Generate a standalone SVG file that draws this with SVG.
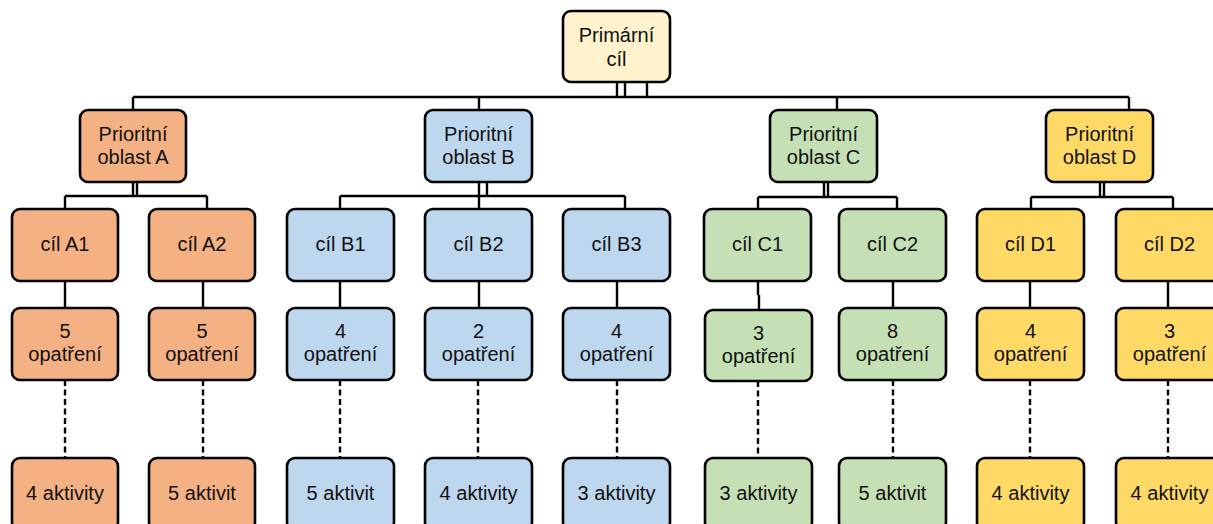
<svg xmlns="http://www.w3.org/2000/svg" width="1213" height="524" viewBox="0 0 1213 524">
<style>
.box{stroke:#000;stroke-width:2.6}
.p{fill:#FFF2CC}.a{fill:#F4B183}.b{fill:#BDD7EE}.c{fill:#C5E0B4}.d{fill:#FFD966}
text{font-family:"Liberation Sans",Arial,sans-serif;font-size:20px;fill:#111;text-anchor:middle}
.ln{stroke:#000;stroke-width:2.4;fill:none}
.ds{stroke:#000;stroke-width:2.4;fill:none;stroke-dasharray:6 3.5}
</style>
<rect width="1213" height="524" fill="#fff"/>
<g id="connectors">
<path class="ln" d="M617 82V97M625 82V97M647 82V97M133 97H1129M133 97V110M479 97V110M837 97V110M1129 97V110"/>
<path class="ln" d="M133 182V196M137 182V196M65 196H207M65 196V209M207 196V209"/>
<path class="ln" d="M479 182V196M487 182V196M340 196H625M340 196V209M479 196V209M625 196V209"/>
<path class="ln" d="M824 182V197M828 182V197M758 197H897M758 197V209M897 197V209"/>
<path class="ln" d="M1100 182V197M1104 182V197M1031 197H1173M1031 197V209M1173 197V209"/>
<path class="ln" d="M65 281V308M203 281V308M340 281V308M479 281V308M617 281V308M758 281V295M759 295V310M893 281V308M1030 281V308M1168 281V308"/>
<path class="ds" d="M65 380V458M203 380V458M340 380V458M478 380V458M617 380V458M758 381V458M893 380V458M1030 380V458M1168 380V458"/>
</g>
<g id="primary"><rect class="box p" x="563" y="11" width="107" height="71" rx="8"/><text x="616.5" y="42">Primární</text><text x="616.5" y="66">cíl</text></g>
<g id="poA"><rect class="box a" x="80" y="110" width="106" height="72" rx="8"/><text x="133" y="141">Prioritní</text><text x="133" y="164">oblast A</text></g>
<g id="poB"><rect class="box b" x="425" y="110" width="107" height="72" rx="8"/><text x="478.5" y="141">Prioritní</text><text x="478.5" y="164">oblast B</text></g>
<g id="poC"><rect class="box c" x="770" y="110" width="107" height="72" rx="8"/><text x="823.5" y="141">Prioritní</text><text x="823.5" y="164">oblast C</text></g>
<g id="poD"><rect class="box d" x="1046" y="110" width="107" height="72" rx="8"/><text x="1099.5" y="141">Prioritní</text><text x="1099.5" y="164">oblast D</text></g>

<g id="cA1"><rect class="box a" x="12" y="209" width="106" height="72" rx="8"/><text x="65" y="251">cíl A1</text></g>
<g id="cA2"><rect class="box a" x="149" y="209" width="106" height="72" rx="8"/><text x="202" y="251">cíl A2</text></g>
<g id="cB1"><rect class="box b" x="287" y="209" width="107" height="72" rx="8"/><text x="340.5" y="251">cíl B1</text></g>
<g id="cB2"><rect class="box b" x="425" y="209" width="107" height="72" rx="8"/><text x="478.5" y="251">cíl B2</text></g>
<g id="cB3"><rect class="box b" x="563" y="209" width="107" height="72" rx="8"/><text x="616.5" y="251">cíl B3</text></g>
<g id="cC1"><rect class="box c" x="704" y="209" width="107" height="72" rx="8"/><text x="757.5" y="251">cíl C1</text></g>
<g id="cC2"><rect class="box c" x="839" y="209" width="107" height="72" rx="8"/><text x="892.5" y="251">cíl C2</text></g>
<g id="cD1"><rect class="box d" x="977" y="209" width="107" height="72" rx="8"/><text x="1030.5" y="251">cíl D1</text></g>
<g id="cD2"><rect class="box d" x="1116" y="209" width="107" height="72" rx="8"/><text x="1169.5" y="251">cíl D2</text></g>

<g id="oA1"><rect class="box a" x="12" y="308" width="106" height="72" rx="8"/><text x="65" y="338">5</text><text x="65" y="361">opatření</text></g>
<g id="oA2"><rect class="box a" x="149" y="308" width="106" height="72" rx="8"/><text x="202" y="338">5</text><text x="202" y="361">opatření</text></g>
<g id="oB1"><rect class="box b" x="287" y="308" width="107" height="72" rx="8"/><text x="340.5" y="338">4</text><text x="340.5" y="361">opatření</text></g>
<g id="oB2"><rect class="box b" x="425" y="308" width="107" height="72" rx="8"/><text x="478.5" y="338">2</text><text x="478.5" y="361">opatření</text></g>
<g id="oB3"><rect class="box b" x="563" y="308" width="107" height="72" rx="8"/><text x="616.5" y="338">4</text><text x="616.5" y="361">opatření</text></g>
<g id="oC1"><rect class="box c" x="705" y="310" width="107" height="71" rx="8"/><text x="758.5" y="340">3</text><text x="758.5" y="363">opatření</text></g>
<g id="oC2"><rect class="box c" x="839" y="308" width="107" height="72" rx="8"/><text x="892.5" y="338">8</text><text x="892.5" y="361">opatření</text></g>
<g id="oD1"><rect class="box d" x="977" y="308" width="107" height="72" rx="8"/><text x="1030.5" y="338">4</text><text x="1030.5" y="361">opatření</text></g>
<g id="oD2"><rect class="box d" x="1116" y="308" width="107" height="72" rx="8"/><text x="1169.5" y="338">3</text><text x="1169.5" y="361">opatření</text></g>

<g id="aA1"><rect class="box a" x="12" y="458" width="106" height="72" rx="8"/><text x="65" y="500">4 aktivity</text></g>
<g id="aA2"><rect class="box a" x="149" y="458" width="106" height="72" rx="8"/><text x="202" y="500">5 aktivit</text></g>
<g id="aB1"><rect class="box b" x="287" y="458" width="107" height="72" rx="8"/><text x="340.5" y="500">5 aktivit</text></g>
<g id="aB2"><rect class="box b" x="425" y="458" width="107" height="72" rx="8"/><text x="478.5" y="500">4 aktivity</text></g>
<g id="aB3"><rect class="box b" x="563" y="458" width="107" height="72" rx="8"/><text x="616.5" y="500">3 aktivity</text></g>
<g id="aC1"><rect class="box c" x="705" y="458" width="107" height="72" rx="8"/><text x="758.5" y="500">3 aktivity</text></g>
<g id="aC2"><rect class="box c" x="839" y="458" width="107" height="72" rx="8"/><text x="892.5" y="500">5 aktivit</text></g>
<g id="aD1"><rect class="box d" x="977" y="458" width="107" height="72" rx="8"/><text x="1030.5" y="500">4 aktivity</text></g>
<g id="aD2"><rect class="box d" x="1116" y="458" width="107" height="72" rx="8"/><text x="1169.5" y="500">4 aktivity</text></g>
</svg>
